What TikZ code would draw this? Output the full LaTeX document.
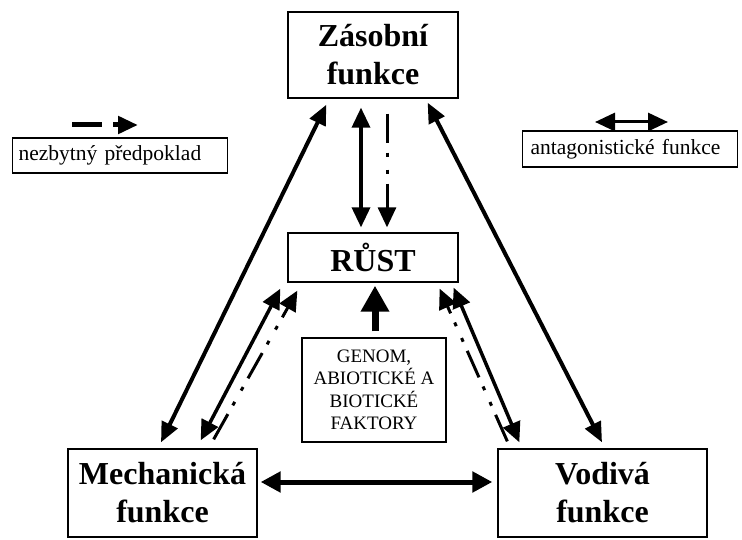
\documentclass[tikz,border=0pt]{standalone}
\usepackage{fontspec}
\setmainfont{Liberation Serif}
\usetikzlibrary{arrows.meta,calc}
\begin{document}
\begin{tikzpicture}[x=1pt,y=-1pt,
  box/.style={draw,line width=1.3pt,inner sep=0pt,align=center,
    font=\fontsize{32}{38}\selectfont\bfseries},
  smallbox/.style={draw,line width=1.3pt,inner sep=0pt,align=center,
    font=\fontsize{19}{22.5}\selectfont},
  legbox/.style={draw,line width=1.1pt,inner ysep=0pt,inner xsep=6pt,align=left,
    anchor=west,font=\fontsize{21.5}{24}\selectfont},
  longarr/.style={line width=4pt,{Triangle[length=20pt,width=17pt]}-{Triangle[length=20pt,width=17pt]}},
  midarr/.style={line width=3.5pt,{Triangle[length=20pt,width=18pt]}-{Triangle[length=20pt,width=18pt]}},
  dashdot/.style={line width=3pt,dash pattern=on 29pt off 10pt on 4pt off 13pt on 4pt off 10pt,
    -{Triangle[length=20pt,width=18pt]}},
]
\useasboundingbox (0,0) rectangle (742,540);

% function boxes
\node[box,minimum width=170pt,minimum height=86pt] (zas) at (373,55) {Zásobní\\funkce};
\node[box,minimum width=170pt,minimum height=49pt] (rust) at (373,257.5) {RŮST};
\node[smallbox,minimum width=144pt,minimum height=104pt] (genom) at (374,390)
  {GENOM,\\ABIOTICKÉ A\\BIOTICKÉ\\FAKTORY};
\node[box,minimum width=189pt,minimum height=88pt] (mech) at (162.5,493) {Mechanická\\funkce};
\node[box,minimum width=209pt,minimum height=88pt] (vod) at (602.5,493) {Vodivá\\funkce};

% legend
\node[legbox,text width=203pt,minimum height=35pt] (leg1) at (12,155.5) {nezbytný předpoklad};
\node[legbox,text width=199pt,inner xsep=8pt,minimum height=36pt] (leg2) at (522,149) {antagonistické funkce};
\coordinate (l1a) at (72,125);
\coordinate (l1b) at (138,125);
\coordinate (l2a) at (595,122);
\coordinate (l2b) at (668,122);
\draw[line width=5pt,dash pattern=on 30pt off 11pt,-{Triangle[length=20pt,width=17pt]}] (l1a) -- (l1b);
\draw[line width=3pt,{Triangle[length=20pt,width=18pt]}-{Triangle[length=20pt,width=18pt]}] (l2a) -- (l2b);

% storage <-> mechanical / conductive
\draw[longarr] ([shift={(-1.5,-6)}]mech.north) -- ([shift={(39,6)}]zas.south west);
\draw[longarr] ([shift={(-31,4)}]zas.south east) -- ([shift={(-0.5,-6)}]vod.north);

% storage <-> growth
\draw[midarr] ([shift={(-12,9)}]zas.south) -- ([shift={(-12,-5)}]rust.north);
\draw[dashdot] ([shift={(14,15)}]zas.south) -- ([shift={(14,-5)}]rust.north);

% genome and environment -> growth
\draw[line width=7pt,-{Triangle[length=26pt,width=27pt]}] ([shift={(1,-6)}]genom.north) -- ([shift={(2,3)}]rust.south);

% mechanical <-> growth
\draw[midarr] ([shift={(-57,-8)}]mech.north east) -- ([shift={(-7,6)}]rust.south west);
\draw[dashdot] ([shift={(-44,-9)}]mech.north east) -- ([shift={(10,8)}]rust.south west);

% conductive <-> growth
\draw[midarr] ([shift={(22,-6)}]vod.north west) -- ([shift={(-5,5)}]rust.south east);
\draw[dashdot] ([shift={(10,-7)}]vod.north west) -- ([shift={(-19,6)}]rust.south east);

% mechanical <-> conductive
\draw[line width=5pt,{Triangle[length=20pt,width=20pt]}-{Triangle[length=20pt,width=20pt]}]
  ([shift={(3,-11)}]mech.east) -- ([shift={(-5,-11)}]vod.west);
\end{tikzpicture}
\end{document}
